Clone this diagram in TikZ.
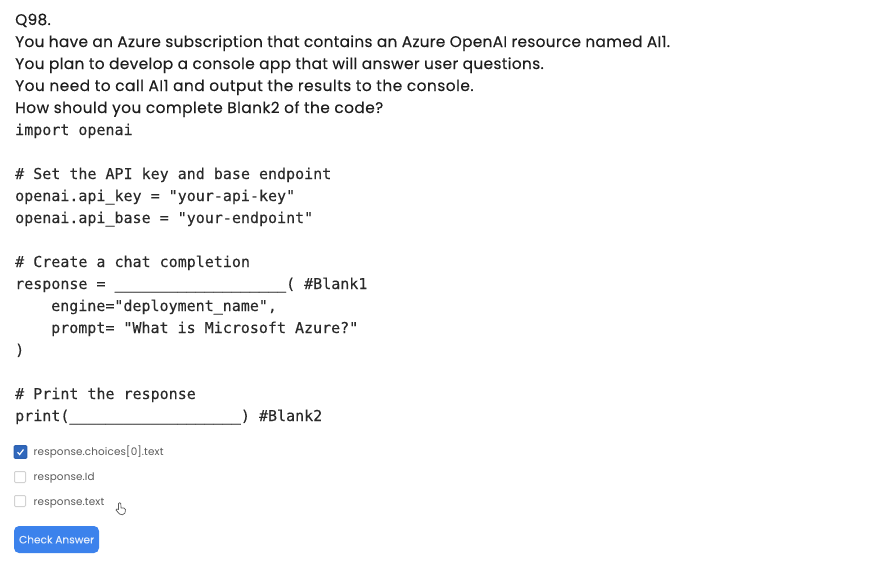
\documentclass[tikz,border=0pt]{standalone}
\usepackage{fontspec}
\setmainfont{Poppins}[FakeBold=0.2,LetterSpace=1.7]
\newfontfamily\codefont{DejaVu Sans Mono}[FakeBold=0.25]
\newfontfamily\uifont{Poppins}[LetterSpace=1.2]
\newfontfamily\btnfont{Poppins}[FakeBold=0.2]
\definecolor{ink}{HTML}{1E1E1E}
\definecolor{codeink}{HTML}{2A2A2A}
\definecolor{btnblue}{HTML}{3C82EC}
\definecolor{optgray}{HTML}{5A5A5A}
\definecolor{boxgray}{HTML}{D2D2D2}
\tikzset{
  x=1pt,y=-1pt,
  qline/.style={anchor=base west,inner sep=0pt,text=ink,font=\fontsize{15.4pt}{17pt}\selectfont},
  codeline/.style={anchor=base west,inner sep=0pt,text=codeink,font=\codefont\fontsize{15pt}{17pt}\selectfont},
  optline/.style={anchor=base west,inner sep=0pt,text=optgray,font=\uifont\fontsize{10.4pt}{12pt}\selectfont},
  emptybox/.style={draw=boxgray,line width=1pt,fill=white,rounded corners=1pt,minimum size=11pt,inner sep=0pt},
}
\begin{document}
\begin{tikzpicture}
\useasboundingbox (0,0) rectangle (886,560);
\fill[white] (0,0) rectangle (886,560);
\node[qline] (q0) at (15,25) {Q98.};
\node[qline] (q1) at (15,47) {You have an Azure subscription that contains an Azure OpenAI resource named AI1.};
\node[qline] (q2) at (15,69) {\addfontfeature{LetterSpace=2.1}You plan to develop a console app that will answer user questions.};
\node[qline] (q3) at (15,91) {\addfontfeature{LetterSpace=3}You need to call AI1 and output the results to the console.};
\node[qline] (q4) at (15,113) {\addfontfeature{LetterSpace=2.7}How should you complete Blank2 of the code?};
\node[codeline] (c1) at (15,135) {import openai};
\node[codeline] (c2) at (15,179) {\# Set the API key and base endpoint};
\node[codeline] (c3) at (15,201) {openai.api\_key = "your-api-key"};
\node[codeline] (c4) at (15,223) {openai.api\_base = "your-endpoint"};
\node[codeline] (c5) at (15,267) {\# Create a chat completion};
\node[codeline] (c6) at (15,289) {response = \_\_\_\_\_\_\_\_\_\_\_\_\_\_\_\_\_\_\_( \#Blank1};
\node[codeline] (c7) at (51,311) {engine="deployment\_name",};
\node[codeline] (c8) at (51,333) {prompt= "What is Microsoft Azure?"};
\node[codeline] (c9) at (15,355) {)};
\node[codeline] (c10) at (15,399) {\# Print the response};
\node[codeline] (c11) at (15,421) {print(\_\_\_\_\_\_\_\_\_\_\_\_\_\_\_\_\_\_\_) \#Blank2};
% options
\node[draw=btnblue!75!black,line width=1.4pt,fill=btnblue!80!black,rounded corners=1pt,minimum size=12.5pt,inner sep=0pt] (b1) at (20.5,452) {};
\draw[white,line width=1.2pt] (17.5,452.3) -- (19.6,454.5) -- (23.5,449.5);
\node[optline] (o1) at (33.5,455) {response.choices[0].text};
\node[emptybox] (b2) at (20,477) {};
\node[optline] (o2) at (33.5,480) {response.Id};
\node[emptybox] (b3) at (20,501) {};
\node[optline] (o3) at (33.5,505) {response.text};
% button
\node[fill=btnblue,rounded corners=5pt,minimum width=85pt,minimum height=27pt,inner sep=0pt,text=white!85!btnblue,font=\btnfont\fontsize{10.6pt}{12pt}\selectfont] (btn) at (56.5,539.5) {Check Answer};
% cursor
\draw[draw=black!65,fill=white,line width=.7pt,line join=round]
 (118.5,503.5) .. controls (119,502.5) and (120.5,502.5) .. (120.8,503.5) -- (121,508)
 .. controls (123,507.5) and (125,508) .. (125.5,509.5) -- (125,513)
 .. controls (124,515) and (121,515.5) .. (119.5,514)
 -- (116,510) .. controls (116,509) and (117.5,508.5) .. (118.5,509.5) -- cycle;
\end{tikzpicture}
\end{document}
